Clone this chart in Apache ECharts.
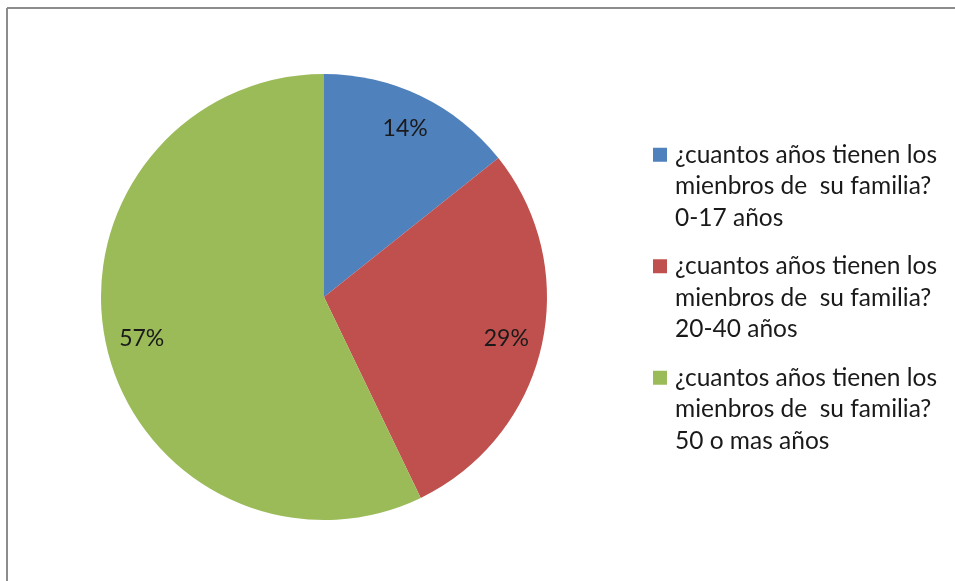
<!DOCTYPE html>
<html>
<head>
<meta charset="utf-8">
<script src="https://cdn.jsdelivr.net/npm/echarts@6/dist/echarts.min.js"></script>
<style>
html,body{margin:0;padding:0;background:#fff;}
#chart{width:955px;height:581px;}
</style>
</head>
<body>
<div id="chart"></div>
<script>
var categories = [
  "¿cuantos años tienen los\nmienbros de  su familia?\n0-17 años",
  "¿cuantos años tienen los\nmienbros de  su familia?\n20-40 años",
  "¿cuantos años tienen los\nmienbros de  su familia?\n50 o mas años"
];
var values = [1, 2, 4];
var colors = ['#4F81BD', '#C0504D', '#9BBB59'];

var FONT = 'Lato';
var data = categories.map(function (c, i) {
  return { name: c, value: values[i], itemStyle: { color: colors[i] } };
});
var ringData = categories.map(function (c, i) {
  return { name: c, value: values[i], itemStyle: { color: 'rgba(0,0,0,0)' } };
});

var rich = {
  g: { width: 8 },
  s: { width: 22 },
  t: { fontSize: 24.5, lineHeight: 31.5, fontFamily: FONT, color: '#1a1a1a' }
};
colors.forEach(function (col, i) {
  rich['m' + i] = { width: 14, height: 14, backgroundColor: col };
});

var chart = echarts.init(document.getElementById('chart'), null, { renderer: 'canvas' });
chart.setOption({
  animation: false,
  backgroundColor: '#fff',
  graphic: [
    { type: 'line', shape: { x1: 7, y1: 8, x2: 955, y2: 8 }, style: { stroke: '#8c8c8c', lineWidth: 2 } },
    { type: 'line', shape: { x1: 7, y1: 8, x2: 7, y2: 581 }, style: { stroke: '#8c8c8c', lineWidth: 2 } }
  ],
  legend: {
    orient: 'vertical',
    left: 648,
    top: 139,
    padding: 0,
    itemGap: 17,
    itemWidth: 0,
    itemHeight: 0,
    icon: 'none',
    selectedMode: false,
    data: categories,
    formatter: function (name) {
      var idx = categories.indexOf(name);
      var lines = name.split('\n');
      return lines.map(function (l, k) {
        return (k === 0 ? '{m' + idx + '|}{g|}' : '{s|}') + '{t|' + l + '}';
      }).join('\n');
    },
    textStyle: { rich: rich, fontSize: 24.5, lineHeight: 31.5, fontFamily: FONT }
  },
  series: [
    {
      type: 'pie',
      center: [324, 297],
      radius: [0, 223],
      startAngle: 90,
      clockwise: true,
      label: { show: false },
      labelLine: { show: false },
      emphasis: { disabled: true },
      itemStyle: { borderWidth: 0 },
      data: data
    },
    {
      type: 'pie',
      center: [324, 297],
      radius: [145, 223],
      startAngle: 90,
      clockwise: true,
      silent: true,
      legendHoverLink: false,
      emphasis: { disabled: true },
      label: {
        show: true,
        position: 'inside',
        fontSize: 23,
        fontFamily: FONT,
        color: '#1a1a1a',
        formatter: function (p) { return Math.round(p.percent) + '%'; }
      },
      labelLine: { show: false },
      data: ringData
    }
  ]
});
</script>
</body>
</html>
